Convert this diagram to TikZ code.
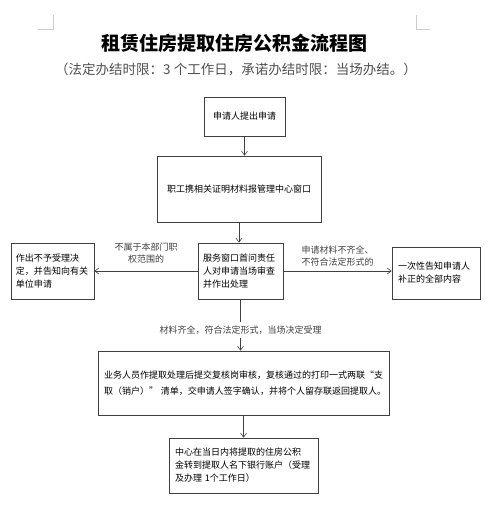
\documentclass[tikz,border=0pt]{standalone}
\usepackage{fontspec}
\setmainfont{Noto Sans CJK SC}
\usepackage{tikz}
\usetikzlibrary{arrows.meta, positioning}
\usepackage{xcolor}
\definecolor{boxline}{HTML}{404040}
\definecolor{subgray}{HTML}{505050}

\begin{document}
\begin{tikzpicture}[x=1pt, y=-1pt,
    box/.style={draw=boxline, line width=0.8pt, font=\fontsize{9}{13}\selectfont,
      align=left, inner sep=0pt, anchor=center},
    lbl/.style={font=\fontsize{9}{12}\selectfont, inner sep=1pt},
    flow/.style={-{Straight Barb[length=4pt, width=6pt]}, boxline, line width=0.6pt}]
    \useasboundingbox (0,0) rectangle (493,508);
    % page corner marks
    \draw[gray!40] (38,29) -- (53,29) -- (53,15);
    \draw[gray!40] (416,15) -- (416,29) -- (430,29);
    % title
    \node (title) at (234,43) {\fontsize{19}{22}\selectfont\bfseries 租赁住房提取住房公积金流程图};
    \node[text=subgray] (sub) at (236,69) {\fontsize{13.5}{15}\selectfont （法定办结时限：3 个工作日，承诺办结时限：当场办结。）};
    % boxes
    \node[box, minimum width=81pt, minimum height=39pt] (apply) at (244.5,116.5) {申请人提出申请};
    \node[box, minimum width=164pt, minimum height=66pt] (window) at (239,189) {职工携相关证明材料报管理中心窗口};
    \node[box, minimum width=85pt, minimum height=56pt, text width=75pt] (check) at (240.5,271)
      {服务窗口首问责任\\人对申请当场审查\\并作出处理};
    \node[box, minimum width=83pt, minimum height=56pt, text width=73pt] (reject) at (52.5,271)
      {作出不予受理决\\定，并告知向有关\\单位申请};
    \node[box, minimum width=88pt, minimum height=52pt, text width=76pt] (notify) at (436,273)
      {一次性告知申请人\\补正的全部内容};
    \node[box, minimum width=291pt, minimum height=64pt, text width=279pt,
      font=\fontsize{9}{16}\selectfont] (handle) at (243.5,383)
      {业务人员作提取处理后提交复核岗审核，复核通过的打印一式两联“支\\取（销户）” 清单，交申请人签字确认，并将个人留存联返回提取人。};
    \node[box, minimum width=149pt, minimum height=55pt, text width=137pt] (transfer) at (243.5,465.5)
      {中心在当日内将提取的住房公积\\金转到提取人名下银行账户（受理\\及办理 1个工作日）};
    % connectors
    \draw[flow] (apply.south) -- (apply.south |- window.north);
    \draw[flow] (window.south) -- (window.south |- check.north);
    \draw[flow] (check.west) -- (reject.east)
      node[lbl, midway, above=6pt, align=center] (outside) {不属于本部门职\\权范围的};
    \draw[flow] (check.east) -- (check.east -| notify.west)
      node[lbl, midway, above=3pt, align=left] (lack) {申请材料不齐全、\\不符合法定形式的};
    \draw[flow] (check.south) -- (check.south |- handle.north)
      node[lbl, pos=0.6, fill=white, inner ysep=4pt] (accept) {材料齐全，符合法定形式，当场决定受理};
    \draw[flow] (handle.south) -- (transfer.north);
  \end{tikzpicture}
\end{document}
